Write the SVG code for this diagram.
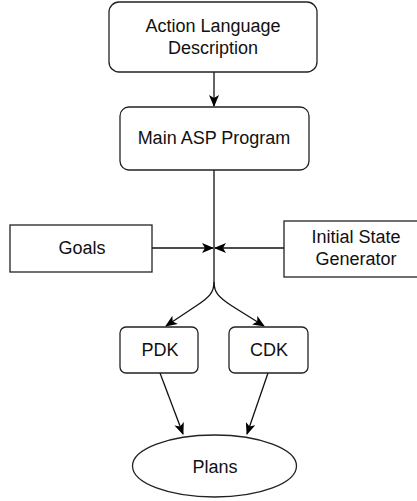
<svg xmlns="http://www.w3.org/2000/svg" width="417" height="501" viewBox="0 0 417 501">
<style>
.box{fill:#fff;stroke:#222;stroke-width:1.3}
.t{font-family:"Liberation Sans",Arial,sans-serif;font-size:18px;fill:#111;text-anchor:middle}
.c{fill:none;stroke:#111;stroke-width:1.3}
</style>
<defs>
<marker id="ah" viewBox="0 0 12 10" refX="11" refY="5" markerWidth="12" markerHeight="10" markerUnits="userSpaceOnUse" orient="auto">
<path d="M0,0 L12,5 L0,10 L3,5 Z" fill="#000"/>
</marker>
</defs>
<g id="connectors">
<path class="c" d="M214,72 L214,106" marker-end="url(#ah)"/>
<path class="c" d="M214,170 L214,282 C214,292 210,297 196,306 L166,326" marker-end="url(#ah)"/>
<path class="c" d="M214,282 C214,292 218,297 232,306 L264,326" marker-end="url(#ah)"/>
<path class="c" d="M152,248 L213,248" marker-end="url(#ah)"/>
<path class="c" d="M284,248 L215,248" marker-end="url(#ah)"/>
<path class="c" d="M160,373 L183,434" marker-end="url(#ah)"/>
<path class="c" d="M268,373 L247,434" marker-end="url(#ah)"/>
</g>
<g id="action-language">
<rect class="box" x="109" y="2" width="208" height="70" rx="10"/>
<text class="t" x="213" y="32">Action Language</text>
<text class="t" x="213" y="54">Description</text>
</g>
<g id="main-asp">
<rect class="box" x="120" y="107" width="189" height="63" rx="9"/>
<text class="t" x="214" y="144">Main ASP Program</text>
</g>
<g id="goals">
<rect class="box" x="10" y="225" width="142" height="47"/>
<text class="t" x="82" y="254">Goals</text>
</g>
<g id="initial-state">
<rect class="box" x="284" y="221" width="144" height="56"/>
<text class="t" x="356" y="243">Initial State</text>
<text class="t" x="356" y="265">Generator</text>
</g>
<g id="pdk">
<rect class="box" x="120" y="327" width="78" height="46" rx="6"/>
<text class="t" x="160" y="356">PDK</text>
</g>
<g id="cdk">
<rect class="box" x="229" y="327" width="79" height="46" rx="6"/>
<text class="t" x="269" y="356">CDK</text>
</g>
<g id="plans">
<ellipse class="box" cx="214.5" cy="466" rx="82" ry="31"/>
<text class="t" x="215" y="473">Plans</text>
</g>
</svg>
